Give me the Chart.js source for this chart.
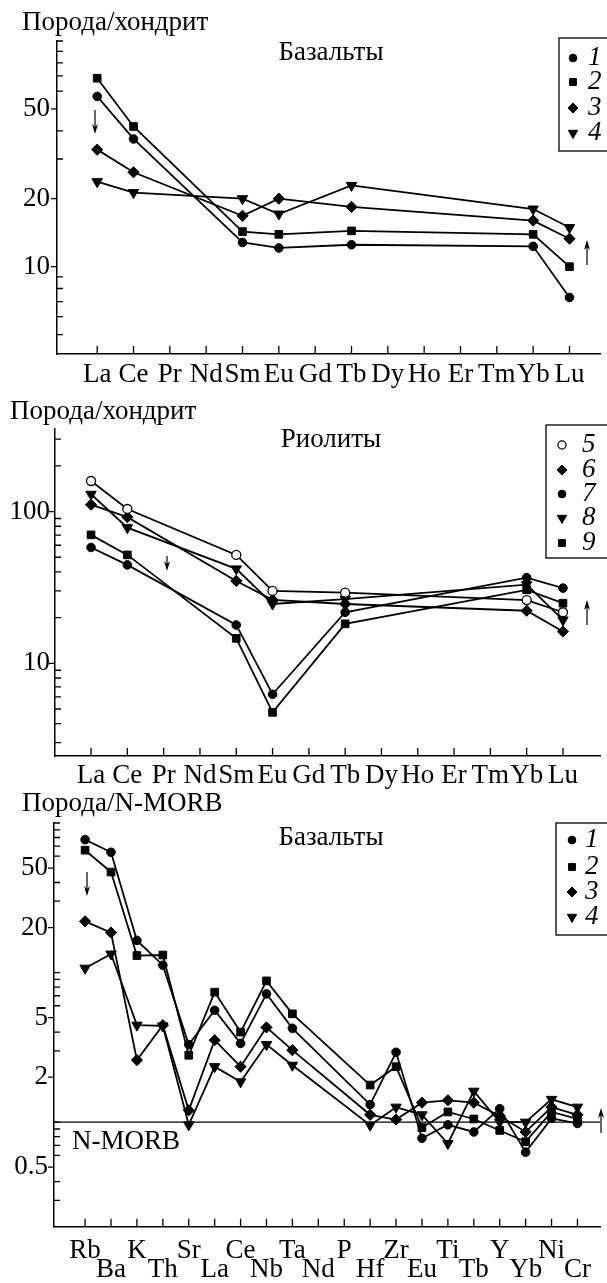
<!DOCTYPE html>
<html>
<head>
<meta charset="utf-8">
<script src="https://cdn.jsdelivr.net/npm/chart.js@4.4.1/dist/chart.umd.min.js"></script>
<style>
  html, body { margin: 0; padding: 0; background: #fff; }
  #wrap { position: relative; width: 607px; height: 1283px; overflow: hidden; }
  canvas { position: absolute; left: 0; }
</style>
</head>
<body>
<div id="wrap">
  <canvas id="reeBasalt" width="607" height="405" style="top:0px"></canvas>
  <canvas id="reeRhyolite" width="607" height="405" style="top:395px"></canvas>
  <canvas id="morbBasalt" width="607" height="493" style="top:790px"></canvas>
</div>
<script>
// REE elements (chondrite normalised)
const reeElements = ['La', 'Ce', 'Pr', 'Nd', 'Sm', 'Eu', 'Gd', 'Tb', 'Dy', 'Ho', 'Er', 'Tm', 'Yb', 'Lu'];

// Basalts, Rock/chondrite
const basaltTicks = [5, 6, 7, 8, 9, 10, 20, 30, 40, 50, 60, 70, 80, 90, 100];
const basaltTickLabels = [10, 20, 50];
const basalt1 = [56.8, 36.8, null, null, 12.8, 12.1, null, 12.5, null, null, null, null, 12.3, 7.3];
const basalt2 = [68.4, 41.8, null, null, 14.3, 13.9, null, 14.4, null, null, null, null, 13.9, 10.0];
const basalt3 = [33.0, 26.2, null, null, 16.8, 20.0, null, 18.4, null, null, null, null, 16.0, 13.3];
const basalt4 = [23.8, 21.3, null, null, 20.0, 17.1, null, 22.9, null, null, null, null, 18.0, 14.9];

// Rhyolites, Rock/chondrite
const rhyoliteTicks = [3, 4, 5, 6, 7, 8, 9, 10, 20, 30, 40, 50, 60, 70, 80, 90, 100, 200, 300];
const rhyoliteTickLabels = [10, 100];
const rhyolite5 = [159, 104, null, null, 51.8, 30.0, null, 29.2, null, null, null, null, 26.1, 21.7];
const rhyolite6 = [111, 91.9, null, null, 34.9, 26.2, null, 24.6, null, null, null, null, 22.2, 16.2];
const rhyolite7 = [58.0, 44.5, null, null, 17.9, 6.25, null, 21.7, null, null, null, null, 36.7, 31.3];
const rhyolite8 = [130, 78.3, null, null, 41.9, 24.6, null, 26.5, null, null, null, null, 33.0, 19.3];
const rhyolite9 = [70.2, 51.8, null, null, 14.6, 4.75, null, 18.2, null, null, null, null, 30.5, 24.9];

// Basalts, Rock/N-MORB
const spiderElements = ['Rb', 'Ba', 'K', 'Th', 'Sr', 'La', 'Ce', 'Nb', 'Ta', 'Nd', 'P', 'Hf', 'Zr', 'Eu', 'Ti', 'Tb', 'Y', 'Yb', 'Ni', 'Cr'];
const spiderTicks = [0.3, 0.4, 0.5, 0.6, 0.7, 0.8, 0.9, 1, 2, 3, 4, 5, 6, 7, 8, 9, 10, 20, 30, 40, 50, 60, 70, 80, 90, 100];
const spiderTickLabels = [0.5, 2, 5, 20, 50];
const morb1 = [77.4, 63.7, 16.4, 11.2, 3.3, 5.6, 3.36, 7.2, 4.24, null, null, 1.31, 2.93, 0.78, 0.96, 0.86, 1.23, 0.63, 1.06, 0.98];
const morb2 = [65.8, 47.0, 13.0, 13.1, 2.8, 7.4, 4.0, 8.8, 5.3, null, null, 1.77, 2.35, 0.92, 1.17, 1.05, 0.88, 0.74, 1.17, 1.05];
const morb3 = [22.0, 18.5, 2.6, 4.45, 1.2, 3.53, 2.35, 4.3, 3.03, null, null, 1.12, 1.04, 1.35, 1.4, 1.35, 1.1, 0.86, 1.26, 1.12];
const morb4 = [10.7, 13.3, 4.45, 4.4, 0.96, 2.35, 1.86, 3.3, 2.4, null, null, 0.955, 1.26, 1.12, 0.72, 1.61, 1.0, 1.0, 1.42, 1.26];

const SERIF = "'Liberation Serif', 'Times New Roman', Times, serif";
const FONT_SIZE = 27;
Chart.defaults.font.family = SERIF;
Chart.defaults.color = '#000';

// marker styles
const MARKS = {
    circle:     { style: 'circle',   radius: 4.3, rotation: 0,   fill: '#000', border: 1 },
    openCircle: { style: 'circle',   radius: 4.5, rotation: 0,   fill: '#fff', border: 1.3 },
    square:     { style: 'rect',     radius: 5.4, rotation: 0,   fill: '#000', border: 1 },
    diamond:    { style: 'rectRot',  radius: 5.6, rotation: 0,   fill: '#000', border: 1 },
    triangle:   { style: 'triangle', radius: 6.0, rotation: 180, fill: '#000', border: 1 }
};

function lineSet(label, values, mark) {
    const m = MARKS[mark];
    return {
        label: label,
        data: values.map((v, i) => ({ x: i, y: v })).filter(p => p.y !== null),
        borderColor: '#000',
        borderWidth: 1.8,
        pointStyle: m.style,
        pointRadius: m.radius,
        pointHoverRadius: m.radius,
        pointRotation: m.rotation,
        pointBackgroundColor: m.fill,
        pointBorderColor: '#000',
        pointBorderWidth: m.border,
        tension: 0,
        fill: false,
        clip: false
    };
}

function drawMark(ctx, m, x, y, k) {
    ctx.save();
    ctx.fillStyle = m.fill;
    ctx.strokeStyle = '#000';
    ctx.lineWidth = m.border;
    Chart.helpers.drawPoint(ctx, { pointStyle: m.style, radius: m.radius * k, rotation: m.rotation, borderWidth: m.border }, x, y);
    ctx.restore();
}

function arrow(ctx, x, yFrom, yTo) {
    const d = yTo > yFrom ? -1 : 1;
    ctx.beginPath();
    ctx.moveTo(x, yFrom);
    ctx.lineTo(x, yTo + d * 4);
    ctx.stroke();
    ctx.beginPath();
    ctx.moveTo(x, yTo);
    ctx.lineTo(x - 3, yTo + d * 10);
    ctx.lineTo(x, yTo + d * 7);
    ctx.lineTo(x + 3, yTo + d * 10);
    ctx.closePath();
    ctx.fill();
}

// axis ticks, titles, legend box and arrows
function decor(cfg) {
    return {
        id: 'decor',
        beforeDatasetsDraw(chart) {
            const { ctx, chartArea: a, scales: { x, y } } = chart;
            ctx.save();
            ctx.strokeStyle = '#000';
            ctx.lineWidth = 1.3;
            ctx.beginPath();
            x.ticks.forEach(t => {
                const px = x.getPixelForValue(t.value);
                ctx.moveTo(px, a.bottom);
                ctx.lineTo(px, a.bottom - 8);
            });
            y.ticks.forEach(t => {
                const py = y.getPixelForValue(t.value);
                if (cfg.yTickLabels.includes(t.value)) {
                    ctx.moveTo(a.left - 6, py);
                    ctx.lineTo(a.left, py);
                } else {
                    ctx.moveTo(a.left, py);
                    ctx.lineTo(a.left + 6, py);
                }
            });
            ctx.stroke();
            if (cfg.refLine) {
                const py = y.getPixelForValue(cfg.refLine.value);
                ctx.beginPath();
                ctx.moveTo(a.left, py);
                ctx.lineTo(a.right, py);
                ctx.stroke();
            }
            ctx.restore();
        },
        afterDraw(chart) {
            const ctx = chart.ctx;
            ctx.save();
            ctx.fillStyle = '#000';
            ctx.strokeStyle = '#000';
            ctx.textBaseline = 'middle';
            ctx.font = FONT_SIZE + 'px ' + SERIF;

            ctx.textAlign = 'left';
            ctx.fillText(cfg.yTitle.text, cfg.yTitle.x, cfg.yTitle.y);
            ctx.textAlign = 'center';
            ctx.fillText(cfg.title.text, cfg.title.x, cfg.title.y);
            if (cfg.refLine) {
                ctx.textAlign = 'left';
                ctx.fillText(cfg.refLine.text, cfg.refLine.x, cfg.refLine.y);
            }

            // legend
            const lg = cfg.legend;
            ctx.lineWidth = 1.3;
            ctx.strokeRect(lg.x, lg.y, lg.w, lg.h);
            ctx.font = 'italic ' + FONT_SIZE + 'px ' + SERIF;
            ctx.textAlign = 'left';
            lg.items.forEach(it => {
                drawMark(ctx, MARKS[it.mark], lg.markX, it.y, 0.9);
                ctx.fillText(it.text, lg.textX, it.y);
            });

            ctx.lineWidth = 1.2;
            cfg.arrows.forEach(ar => arrow(ctx, ar[0], ar[1], ar[2]));
            ctx.restore();
        }
    };
}

function buildChart(id, cfg) {
    return new Chart(document.getElementById(id), {
        type: 'line',
        data: { datasets: cfg.datasets },
        options: {
            responsive: false,
            animation: false,
            devicePixelRatio: 1,
            events: [],
            layout: { padding: { top: cfg.top, right: 0, bottom: 0, left: 0 } },
            plugins: { legend: { display: false }, tooltip: { enabled: false } },
            scales: {
                x: {
                    type: 'linear',
                    min: cfg.xMin,
                    max: cfg.xMax,
                    grid: { display: false, drawTicks: false, tickLength: 0 },
                    border: { display: true, color: '#000', width: 1.5 },
                    afterBuildTicks: s => { s.ticks = cfg.names.map((n, i) => ({ value: i })); },
                    afterFit: s => { s.height = cfg.xHeight; },
                    ticks: {
                        autoSkip: false,
                        maxRotation: 0,
                        minRotation: 0,
                        padding: cfg.xPad,
                        color: '#000',
                        font: { size: FONT_SIZE, lineHeight: cfg.xLineHeight },
                        callback: v => cfg.xLabel(v)
                    }
                },
                y: {
                    type: 'logarithmic',
                    min: cfg.yMin,
                    max: cfg.yMax,
                    grid: { display: false, drawTicks: false, tickLength: 0 },
                    border: { display: true, color: '#000', width: 1.5 },
                    afterBuildTicks: s => { s.ticks = cfg.yTicks.map(v => ({ value: v })); },
                    afterFit: s => { s.width = cfg.left; },
                    ticks: {
                        autoSkip: false,
                        padding: cfg.yPad,
                        color: '#000',
                        font: { size: FONT_SIZE },
                        callback: v => cfg.yTickLabels.includes(v) ? String(v) : ''
                    }
                }
            }
        },
        plugins: [decor(cfg)]
    });
}

// Basalts, chondrite
buildChart('reeBasalt', {
    datasets: [
        lineSet('1', basalt1, 'circle'),
        lineSet('2', basalt2, 'square'),
        lineSet('3', basalt3, 'diamond'),
        lineSet('4', basalt4, 'triangle')
    ],
    names: reeElements,
    xLabel: v => reeElements[v],
    xMin: -1.106, xMax: 13.84,
    top: 41, left: 57, xHeight: 51, xPad: 5, xLineHeight: 1.2, yPad: 7,
    yMin: 4.1, yMax: 100,
    yTicks: basaltTicks, yTickLabels: basaltTickLabels,
    yTitle: { text: 'Порода/хондрит', x: 22, y: 23 },
    title: { text: 'Базальты', x: 331, y: 53 },
    legend: {
        x: 559, y: 38, w: 52, h: 113, markX: 573, textX: 588,
        items: [
            { mark: 'circle', text: '1', y: 58 },
            { mark: 'square', text: '2', y: 82 },
            { mark: 'diamond', text: '3', y: 108 },
            { mark: 'triangle', text: '4', y: 133 }
        ]
    },
    arrows: [[95, 110, 134], [587, 265, 240]]
});

// Rhyolites, chondrite
buildChart('reeRhyolite', {
    datasets: [
        lineSet('5', rhyolite5, 'openCircle'),
        lineSet('6', rhyolite6, 'diamond'),
        lineSet('7', rhyolite7, 'circle'),
        lineSet('8', rhyolite8, 'triangle'),
        lineSet('9', rhyolite9, 'square')
    ],
    names: reeElements,
    xLabel: v => reeElements[v],
    xMin: -0.993, xMax: 14.02,
    top: 34, left: 55, xHeight: 44, xPad: 4, xLineHeight: 1.2, yPad: 5,
    yMin: 2.45, yMax: 350,
    yTicks: rhyoliteTicks, yTickLabels: rhyoliteTickLabels,
    yTitle: { text: 'Порода/хондрит', x: 10, y: 17 },
    title: { text: 'Риолиты', x: 331, y: 45 },
    legend: {
        x: 546, y: 30, w: 65, h: 133, markX: 562, textX: 582,
        items: [
            { mark: 'openCircle', text: '5', y: 50 },
            { mark: 'diamond', text: '6', y: 75 },
            { mark: 'circle', text: '7', y: 99 },
            { mark: 'triangle', text: '8', y: 123 },
            { mark: 'square', text: '9', y: 148 }
        ]
    },
    arrows: [[167, 161, 176], [587, 230, 205]]
});

// Basalts, N-MORB
buildChart('morbBasalt', {
    datasets: [
        lineSet('1', morb1, 'circle'),
        lineSet('2', morb2, 'square'),
        lineSet('3', morb3, 'diamond'),
        lineSet('4', morb4, 'triangle')
    ],
    names: spiderElements,
    xLabel: v => (v % 2 === 0 ? spiderElements[v] : ['', spiderElements[v]]),
    xMin: -1.2, xMax: 19.87,
    top: 33, left: 54, xHeight: 56.3, xPad: 14.8, xLineHeight: '19px', yPad: 6,
    yMin: 0.2, yMax: 100,
    yTicks: spiderTicks, yTickLabels: spiderTickLabels,
    yTitle: { text: 'Порода/N-MORB', x: 22, y: 14 },
    title: { text: 'Базальты', x: 331, y: 48 },
    refLine: { value: 1, text: 'N-MORB', x: 72, y: 352 },
    legend: {
        x: 556, y: 33, w: 55, h: 112, markX: 572, textX: 585,
        items: [
            { mark: 'circle', text: '1', y: 50 },
            { mark: 'square', text: '2', y: 77 },
            { mark: 'diamond', text: '3', y: 102 },
            { mark: 'triangle', text: '4', y: 127 }
        ]
    },
    arrows: [[87, 82, 106], [601, 343, 318]]
});
</script>
</body>
</html>
